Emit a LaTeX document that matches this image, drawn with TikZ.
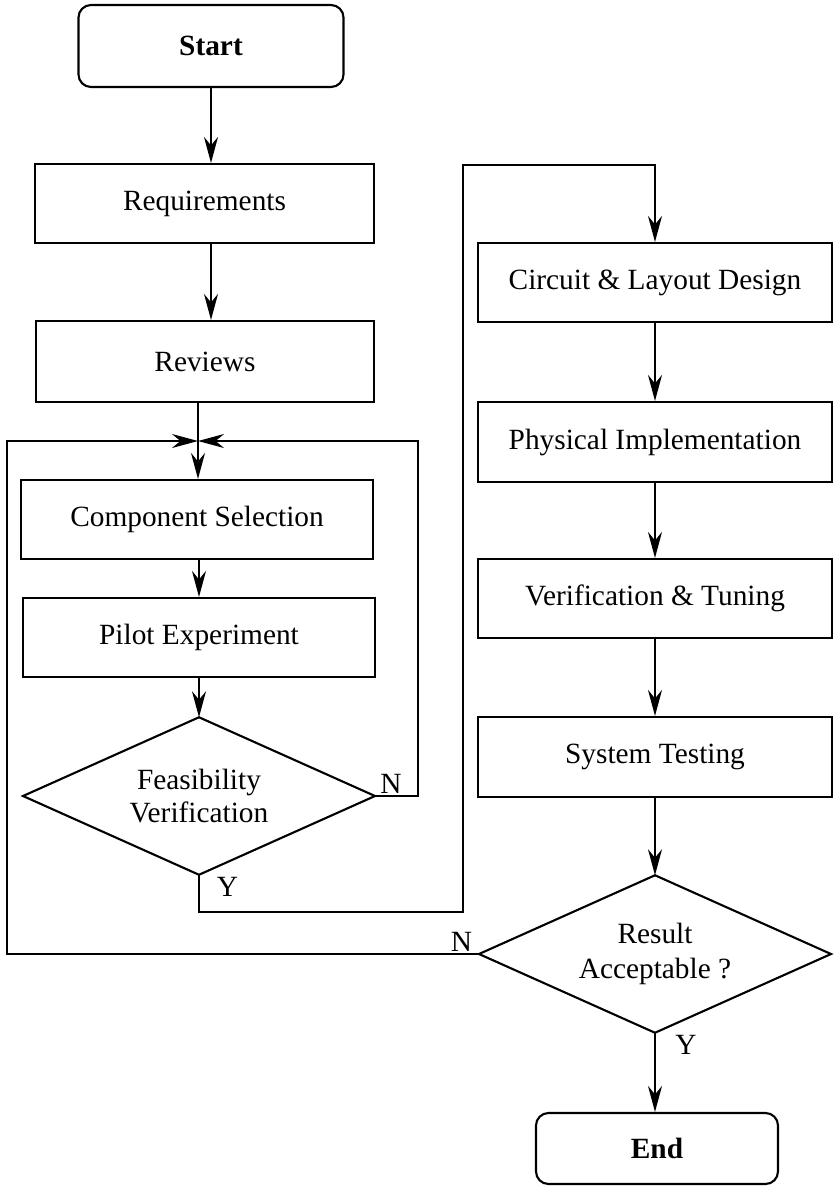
\documentclass[tikz,border=0pt]{standalone}
\usepackage{fontspec}
\setmainfont{Liberation Serif}
\usetikzlibrary{shapes.geometric, arrows.meta, positioning}

\begin{document}
\begin{tikzpicture}[
    font=\fontsize{16.7}{19}\selectfont,
    proc/.style={rectangle, draw, line width=1.2pt, minimum width=7.08cm,
                 minimum height=1.58cm, inner sep=0pt},
    term/.style={proc, rounded corners=0.25cm,
                 font=\fontsize{16.7}{19}\selectfont\bfseries},
    decision/.style={diamond, draw, line width=1.2pt, aspect=2.2,
                     inner sep=0pt, outer sep=0pt, align=center,
                     minimum width=7.04cm, minimum height=3.15cm},
    conn/.style={->, line width=1pt, >={Stealth[length=5.2mm, width=2.8mm]}},
    wire/.style={line width=1pt},
    yn/.style={inner sep=1.5pt},
]
\useasboundingbox (0,0) rectangle (16.7,-23.8);

% --- Left column ---
\node[term, minimum width=5.3cm, minimum height=1.64cm] (start) at (4.22,-0.92) {Start};
\node[proc, minimum width=6.78cm] (req) at (4.09,-4.07) {Requirements};
\node[proc, minimum width=6.76cm, minimum height=1.62cm] (rev) at (4.10,-7.23) {Reviews};
\node[proc, minimum width=7.04cm] (comp) at (3.94,-10.39) {Component Selection};
\node[proc, minimum width=7.04cm] (pilot) at (3.98,-12.75) {Pilot Experiment};
\node[decision] (feas) at (3.98,-15.92) {Feasibility\\Verification};

% --- Right column ---
\node[proc] (circ) at (13.1,-5.65) {Circuit \& Layout Design};
\node[proc, minimum height=1.6cm] (phys) at (13.1,-8.84) {Physical Implementation};
\node[proc] (verif) at (13.1,-11.97) {Verification \& Tuning};
\node[proc, minimum height=1.6cm] (sys) at (13.1,-15.14) {System Testing};
\node[decision, font=\fontsize{16.7}{19.5}\selectfont] (res) at (13.1,-19.08) {Result\\Acceptable ?};
\node[term, minimum width=4.84cm, minimum height=1.42cm] (end) at (13.14,-22.97) {End};

% --- Loop corners ---
\coordinate (jn) at (3.96,-8.82);
\coordinate (nr) at (8.36,-8.82);
\coordinate (nl) at (0.14,-8.82);
\coordinate (yb) at (3.98,-18.24);
\coordinate (yt) at (9.26,-3.3);

% --- Main flow ---
\draw[conn] (start.south) -- (start.south |- req.north);
\draw[conn] (start.south |- req.south) -- (start.south |- rev.north);
\draw[wire] (jn |- rev.south) -- (jn);
\draw[conn] (jn) -- (jn |- comp.north);
\draw[conn] (pilot.north |- comp.south) -- (pilot.north);
\draw[conn] (pilot.south) -- (feas.north);
\draw[conn] (circ.south) -- (phys.north);
\draw[conn] (phys.south) -- (verif.north);
\draw[conn] (verif.south) -- (sys.north);
\draw[conn] (sys.south) -- (res.north);
\draw[conn] (res.south) -- (res.south |- end.north);

% --- Feedback and branch lines ---
\draw[conn] (feas.east) -| (nr) -- (jn);
\draw[conn] (res.west) -| (nl) -- (jn);
\draw[conn] (feas.south) -- (yb) -| (yt) -| (circ.north);

% --- Branch labels ---
\node[yn, anchor=south west, xshift=0.05cm] (n1) at (feas.east) {N};
\node[yn, anchor=north west, xshift=0.3cm] (y1) at (feas.south) {Y};
\node[yn, anchor=south east, xshift=-0.08cm] (n2) at (res.west) {N};
\node[yn, anchor=north west, xshift=0.35cm] (y2) at (res.south) {Y};

\end{tikzpicture}
\end{document}
